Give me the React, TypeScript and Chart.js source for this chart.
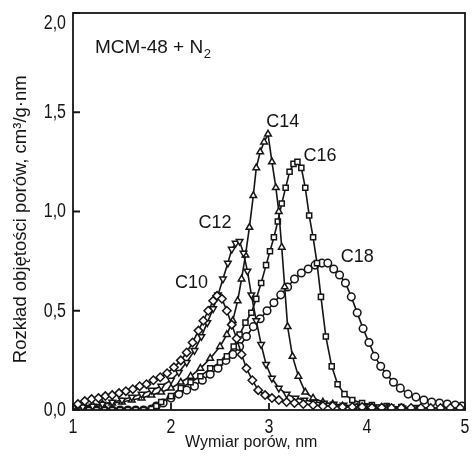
import React, { useEffect, useRef } from "react";
import { Chart, registerables } from "chart.js";

Chart.register(...registerables);

const xTicks = [1, 2, 3, 4, 5];
const yTicks = [0, 0.5, 1.0, 1.5, 2.0];

const c10X = [1.05,1.12,1.19,1.26,1.33,1.40,1.47,1.54,1.61,1.68,1.75,1.82,1.89,1.96,2.03,2.10,2.16,2.22,2.28,2.33,2.38,2.43,2.47,2.52,2.57,2.62,2.67,2.72,2.77,2.83,2.89,2.96,3.03,3.10,3.18,3.26,3.35,3.45,3.55,3.65,3.75,3.85,3.95,4.05,4.15,4.25,4.35,4.45,4.55,4.65,4.75,4.85,4.95];
const c10Y = [0.03,0.045,0.055,0.06,0.07,0.075,0.085,0.095,0.105,0.12,0.13,0.15,0.165,0.185,0.215,0.25,0.29,0.34,0.40,0.45,0.50,0.55,0.575,0.56,0.50,0.43,0.36,0.28,0.21,0.15,0.10,0.075,0.06,0.05,0.04,0.035,0.03,0.025,0.02,0.02,0.015,0.015,0.015,0.012,0.012,0.01,0.01,0.01,0.01,0.01,0.01,0.01,0.01];

const c12X = [1.0,1.1,1.2,1.3,1.4,1.5,1.6,1.7,1.8,1.9,2.0,2.08,2.16,2.24,2.31,2.37,2.43,2.48,2.53,2.58,2.62,2.66,2.70,2.74,2.78,2.82,2.87,2.92,2.97,3.03,3.10,3.18,3.27,3.36,3.46,3.56,3.66,3.76,3.88,4.0,4.12,4.24,4.36,4.48];
const c12Y = [0.01,0.015,0.02,0.03,0.04,0.05,0.065,0.08,0.10,0.12,0.15,0.19,0.24,0.30,0.37,0.44,0.51,0.58,0.66,0.74,0.81,0.84,0.85,0.79,0.70,0.58,0.45,0.33,0.23,0.16,0.11,0.08,0.06,0.05,0.04,0.035,0.03,0.025,0.02,0.02,0.015,0.015,0.01,0.01];

const c14X = [1.0,1.1,1.2,1.3,1.4,1.5,1.6,1.7,1.8,1.9,2.0,2.1,2.2,2.3,2.4,2.5,2.57,2.63,2.68,2.72,2.76,2.80,2.84,2.87,2.91,2.95,2.99,3.03,3.07,3.10,3.13,3.16,3.19,3.24,3.30,3.37,3.45,3.55,3.65,3.75,3.9,4.05,4.2];
const c14Y = [0.01,0.02,0.025,0.03,0.035,0.04,0.05,0.06,0.075,0.09,0.11,0.14,0.17,0.21,0.26,0.32,0.38,0.45,0.55,0.66,0.78,0.92,1.08,1.22,1.30,1.35,1.39,1.25,1.12,1.00,0.82,0.62,0.42,0.27,0.17,0.09,0.06,0.04,0.03,0.02,0.015,0.01,0.01];

const c16X = [1.0,1.08,1.16,1.24,1.32,1.40,1.48,1.56,1.64,1.72,1.80,1.85,1.9,2.0,2.1,2.2,2.3,2.4,2.5,2.57,2.64,2.70,2.76,2.82,2.87,2.92,2.97,3.01,3.05,3.09,3.13,3.17,3.21,3.25,3.29,3.33,3.37,3.41,3.45,3.49,3.53,3.58,3.64,3.70,3.77,3.85,3.95,4.05,4.2,4.35,4.5];
const c16Y = [0,0,0,0,0,0,0,0,0,0,0.005,0.02,0.04,0.07,0.11,0.14,0.17,0.21,0.24,0.27,0.32,0.38,0.44,0.49,0.56,0.64,0.73,0.80,0.87,0.95,1.04,1.12,1.20,1.24,1.25,1.22,1.12,0.98,0.87,0.74,0.57,0.37,0.22,0.13,0.08,0.05,0.035,0.025,0.02,0.015,0.01];

const c18X = [1.0,1.08,1.16,1.24,1.32,1.40,1.48,1.56,1.64,1.72,1.80,1.85,1.92,2.0,2.08,2.16,2.24,2.32,2.40,2.48,2.56,2.63,2.70,2.77,2.84,2.91,2.98,3.05,3.12,3.19,3.26,3.33,3.40,3.47,3.54,3.60,3.66,3.72,3.78,3.84,3.90,3.96,4.02,4.08,4.14,4.20,4.27,4.34,4.42,4.50,4.58,4.66,4.74,4.82,4.90,4.97];
const c18Y = [0,0,0,0,0,0,0,0,0,0,0.005,0.02,0.035,0.06,0.08,0.10,0.12,0.15,0.18,0.21,0.25,0.28,0.32,0.37,0.42,0.46,0.50,0.54,0.58,0.62,0.66,0.69,0.71,0.73,0.74,0.74,0.71,0.68,0.64,0.57,0.49,0.41,0.34,0.27,0.22,0.18,0.14,0.11,0.08,0.065,0.05,0.04,0.035,0.03,0.025,0.02];

const seriesNames = ["C10", "C12", "C14", "C16", "C18"];
const seriesMarkers = ["rectRot", "triangle", "triangle", "rect", "circle"];
const seriesRotation = [0, 180, 0, 0, 0];
const labelX = [2.21, 2.45, 3.14, 3.52, 3.90];
const labelY = [0.64, 0.94, 1.45, 1.28, 0.77];

const FONT = "'Liberation Sans', Arial, sans-serif";
const INK = "#151515";

const fmtY = (v: number) => v.toFixed(1).replace(".", ",");
const fmtX = (v: number) => String(v);

export default function App() {
  const ref = useRef<HTMLCanvasElement | null>(null);
  useEffect(() => {
    const canvas = ref.current;
    if (!canvas) return;
    const xs = [c10X, c12X, c14X, c16X, c18X];
    const ys = [c10Y, c12Y, c14Y, c16Y, c18Y];
    const datasets = seriesNames.map((name, i) => ({
      label: name,
      data: xs[i].map((x, j) => ({ x, y: ys[i][j] })),
      showLine: true,
      borderColor: INK,
      borderWidth: 1.6,
      pointStyle: seriesMarkers[i] as any,
      rotation: seriesRotation[i],
      pointRadius: i === 0 ? 4.2 : i === 3 ? 3.6 : 3.8,
      pointBackgroundColor: "#ffffff",
      pointBorderColor: INK,
      pointBorderWidth: 1.5,
      tension: 0,
    }));

    // draws text stretched vertically (the reference's tick numerals are tall and narrow)
    const tallText = (ctx: any, text: string, x: number, y: number, align: string) => {
      ctx.save();
      ctx.translate(x, y);
      ctx.scale(1, 1.32);
      ctx.textAlign = align;
      ctx.textBaseline = "middle";
      ctx.fillText(text, 0, 0);
      ctx.restore();
    };

    const decor = {
      id: "decor",
      afterDraw(chart: any) {
        const { ctx, chartArea } = chart;
        const xs = chart.scales.x;
        const ysc = chart.scales.y;
        ctx.save();
        ctx.strokeStyle = INK;
        ctx.lineWidth = 1.8;
        ctx.strokeRect(chartArea.left, chartArea.top, chartArea.right - chartArea.left, chartArea.bottom - chartArea.top);
        ctx.beginPath();
        yTicks.forEach((v) => {
          const py = ysc.getPixelForValue(v);
          ctx.moveTo(chartArea.left, py);
          ctx.lineTo(chartArea.left + 7, py);
        });
        xTicks.forEach((v) => {
          const px = xs.getPixelForValue(v);
          ctx.moveTo(px, chartArea.bottom);
          ctx.lineTo(px, chartArea.bottom - 7);
        });
        ctx.stroke();
        ctx.fillStyle = INK;
        // tick labels
        ctx.font = `16px ${FONT}`;
        yTicks.forEach((v) => {
          const py = Math.max(ysc.getPixelForValue(v), chartArea.top + 10);
          tallText(ctx, fmtY(v), chartArea.left - 7, py, "right");
        });
        xTicks.forEach((v) => {
          tallText(ctx, fmtX(v), xs.getPixelForValue(v), chartArea.bottom + 17, "center");
        });
        // series labels
        ctx.font = `18px ${FONT}`;
        ctx.textAlign = "center";
        ctx.textBaseline = "middle";
        seriesNames.forEach((n, i) => {
          ctx.fillText(n, xs.getPixelForValue(labelX[i]), ysc.getPixelForValue(labelY[i]));
        });
        ctx.textAlign = "left";
        ctx.textBaseline = "alphabetic";
        const tx = chartArea.left + 22;
        const ty = chartArea.top + 40;
        const main = "MCM-48 + N";
        ctx.font = `19px ${FONT}`;
        ctx.fillText(main, tx, ty);
        const w = ctx.measureText(main).width;
        ctx.font = `13px ${FONT}`;
        ctx.fillText("2", tx + w + 0.5, ty + 5);
        ctx.restore();
      },
    };

    const chart = new Chart(canvas, {
      type: "scatter",
      data: { datasets: datasets as any },
      plugins: [decor],
      options: {
        responsive: false,
        animation: false,
        layout: { padding: { left: 0, top: 13, right: 8, bottom: 0 } },
        plugins: { legend: { display: false }, tooltip: { enabled: false } },
        scales: {
          x: {
            type: "linear",
            min: 1,
            max: 5,
            afterFit: (s: any) => { s.height = 50; },
            afterBuildTicks: (s: any) => { s.ticks = xTicks.map((v) => ({ value: v })); },
            grid: { display: false, drawTicks: false },
            border: { display: false },
            ticks: { display: false },
            title: {
              display: true,
              text: "Wymiar porów, nm        ",
              color: INK,
              font: { family: FONT, size: 16 },
              padding: { top: 0, bottom: 8 },
            },
          },
          y: {
            type: "linear",
            min: 0,
            max: 2,
            afterFit: (s: any) => { s.width = 73; },
            afterBuildTicks: (s: any) => { s.ticks = yTicks.map((v) => ({ value: v })); },
            grid: { display: false, drawTicks: false },
            border: { display: false },
            ticks: { display: false },
            title: {
              display: true,
              text: "Rozkład objętości porów, cm³/g·nm   ",
              color: INK,
              font: { family: FONT, size: 18.5 },
              padding: { top: 10, bottom: 0 },
            },
          },
        },
      },
    });
    return () => chart.destroy();
  }, []);

  return (
    <div style={{ position: "fixed", left: 0, top: 0, width: 473, height: 460, background: "#ffffff" }}>
      <canvas ref={ref} width={473} height={460} />
    </div>
  );
}
